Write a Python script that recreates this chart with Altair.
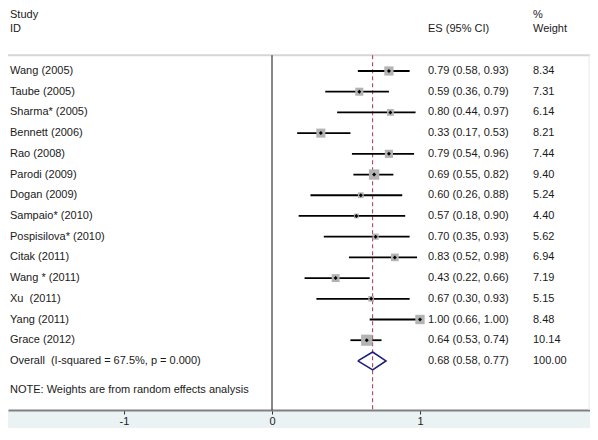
import altair as alt
import pandas as pd

# ---------------- data ----------------
studies = ["Wang (2005)", "Taube (2005)", "Sharma* (2005)", "Bennett (2006)", "Rao (2008)",
           "Parodi (2009)", "Dogan (2009)", "Sampaio* (2010)", "Pospisilova* (2010)",
           "Citak (2011)", "Wang * (2011)", "Xu\u00a0 (2011)", "Yang (2011)", "Grace (2012)"]
es = [0.79, 0.59, 0.80, 0.33, 0.79, 0.69, 0.60, 0.57, 0.70, 0.83, 0.43, 0.67, 1.00, 0.64]
ci_low = [0.58, 0.36, 0.44, 0.17, 0.54, 0.55, 0.26, 0.18, 0.35, 0.52, 0.22, 0.30, 0.66, 0.53]
ci_high = [0.93, 0.79, 0.97, 0.53, 0.96, 0.82, 0.88, 0.90, 0.93, 0.98, 0.66, 0.93, 1.00, 0.74]
weights = [8.34, 7.31, 6.14, 8.21, 7.44, 9.40, 5.24, 4.40, 5.62, 6.94, 7.19, 5.15, 8.48, 10.14]

overall_label = "Overall\u00a0 (I-squared = 67.5%, p = 0.000)"
overall_es = 0.68
overall_low = 0.58
overall_high = 0.77
overall_weight = 100.00

null_value = 0
note = "NOTE: Weights are from random effects analysis"
x_ticks = [-1, 0, 1]

# ---------------- layout constants ----------------
W, H = 582, 402
FONT = "Liberation Sans"
TXT = "#1a1a1a"
TOP_ROW = -0.76
AXIS_ROW = 16.37
D_HALF = 0.43

XS = alt.Scale(domain=[-264 / 148, (W - 264) / 148], nice=False, zero=False)
YS = alt.Scale(domain=[-3.042, AXIS_ROW], nice=False, zero=False, reverse=True)
AX = alt.Axis(values=x_ticks, title=None, grid=False, domainColor="#808080", domainWidth=2,
              tickColor="#333333", tickSize=4, tickWidth=1, labelFont=FONT, labelFontSize=11,
              labelColor="#222222", labelPadding=1, labelExpr="'' + datum.value",
              labelFlush=False)

n = len(studies)
df = pd.DataFrame({
    "row": list(range(n)),
    "study": studies,
    "es": es,
    "lo": ci_low,
    "hi": ci_high,
    "w": weights,
})
df["es_text"] = [f"{e:.2f} ({l:.2f}, {h:.2f})" for e, l, h in zip(es, ci_low, ci_high)]
df["w_text"] = [f"{v:.2f}" for v in weights]

ov = pd.DataFrame({
    "row": [n],
    "study": [overall_label],
    "es": [overall_es],
    "lo": [overall_low],
    "hi": [overall_high],
    "w": [overall_weight],
    "es_text": [f"{overall_es:.2f} ({overall_low:.2f}, {overall_high:.2f})"],
    "w_text": [f"{overall_weight:.2f}"],
    "top": [TOP_ROW],
    "bottom": [AXIS_ROW],
})
text_df = pd.concat([df, ov], ignore_index=True)

diamond = pd.DataFrame({
    "k": [0, 1, 2, 3, 4],
    "x": [overall_low, overall_es, overall_high, overall_es, overall_low],
    "y": [n, n - D_HALF, n, n + D_HALF, n],
})

nulldf = pd.DataFrame({"x": [null_value], "top": [TOP_ROW], "bottom": [AXIS_ROW]})

headers_left = pd.DataFrame({"t": ["Study", "ID"], "row": [-2.72, -2.04]})
headers_es = pd.DataFrame({"t": ["ES (95% CI)"], "row": [-2.04]})
headers_w = pd.DataFrame({"t": ["%", "Weight"], "row": [-2.72, -2.04]})
note_df = pd.DataFrame({"t": [note], "row": [15.42]})


def txt(data, field, xpix):
    return alt.Chart(data).mark_text(align="left", baseline="middle", font=FONT,
                                     fontSize=11, color=TXT).encode(
        x=alt.value(xpix),
        y=alt.Y("row:Q", scale=YS, axis=None),
        text=f"{field}:N",
    )


top_line = alt.Chart(nulldf).mark_rule(color="#d6d6d6", strokeWidth=2).encode(
    y=alt.Y("top:Q", scale=YS, axis=None), x=alt.value(0), x2=alt.value(W))
right_border = alt.Chart(nulldf).mark_rule(color="#e8e8e8", strokeWidth=1).encode(
    x=alt.value(W - 1), y=alt.Y("top:Q", scale=YS, axis=None), y2="bottom:Q")
null_line = alt.Chart(nulldf).mark_rule(color="#111111", strokeWidth=1).encode(
    x=alt.X("x:Q", scale=XS, axis=AX), y=alt.Y("top:Q", scale=YS, axis=None), y2="bottom:Q")
dash_line = alt.Chart(ov).mark_rule(color="#a8324e", strokeWidth=1, strokeDash=[4, 3]).encode(
    x=alt.X("es:Q", scale=XS, axis=AX), y=alt.Y("top:Q", scale=YS, axis=None), y2="bottom:Q")
ci = alt.Chart(df).mark_rule(color="#000000", strokeWidth=1.8).encode(
    x=alt.X("lo:Q", scale=XS, axis=AX), x2="hi:Q", y=alt.Y("row:Q", scale=YS, axis=None))
boxes = alt.Chart(df).mark_square(color="#b3b3b3", opacity=1, filled=True).encode(
    x=alt.X("es:Q", scale=XS, axis=AX), y=alt.Y("row:Q", scale=YS, axis=None),
    size=alt.Size("w:Q", scale=alt.Scale(type="pow", exponent=2, domain=[0, 10], range=[0, 121]),
                  legend=None))
centers = alt.Chart(df).mark_point(shape="diamond", filled=True, color="#000000", opacity=1,
                                   size=16).encode(
    x=alt.X("es:Q", scale=XS, axis=AX), y=alt.Y("row:Q", scale=YS, axis=None))
diam = alt.Chart(diamond).mark_line(color="#1b1f7a", strokeWidth=1.6).encode(
    x=alt.X("x:Q", scale=XS, axis=AX), y=alt.Y("y:Q", scale=YS, axis=None), order="k:Q")

chart = alt.layer(
    top_line, right_border, null_line, dash_line, ci, boxes, centers, diam,
    txt(text_df, "study", 2), txt(text_df, "es_text", 420), txt(text_df, "w_text", 525),
    txt(headers_left, "t", 2), txt(headers_es, "t", 420), txt(headers_w, "t", 525),
    txt(note_df, "t", 2),
).properties(
    width=W, height=H,
    padding={"left": 0, "right": 0, "top": 0, "bottom": 18},
    autosize=alt.AutoSizeParams(type="none"),
    background="#EAF2F3",
).configure_view(stroke=None, fill="white")

chart.save("out.html", embed_options={"renderer": "svg", "actions": False})
